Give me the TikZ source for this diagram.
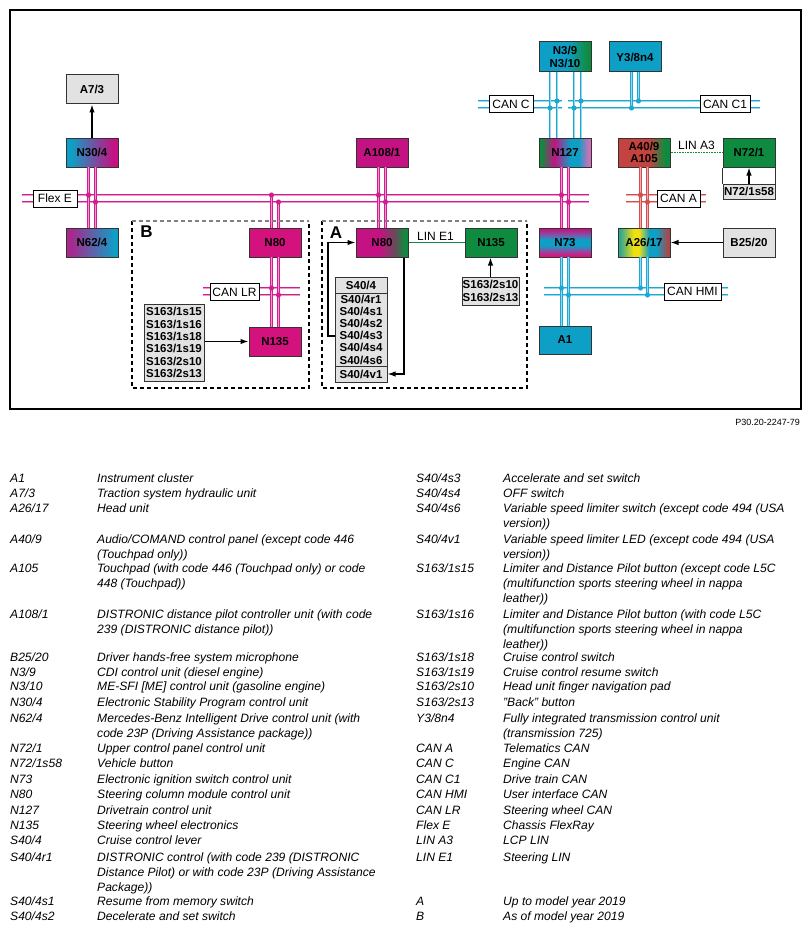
\documentclass[tikz,border=0pt]{standalone}
\usepackage{fontspec}
\setmainfont{Liberation Sans}
\usetikzlibrary{arrows.meta}
\definecolor{cmag}{HTML}{C41283}
\definecolor{cpink}{HTML}{D4127E}
\definecolor{cblue}{HTML}{0E9FC6}
\definecolor{cgreen}{HTML}{0F8B3F}
\definecolor{cred}{HTML}{C4423F}
\definecolor{cgray}{HTML}{E2E2E2}
\definecolor{bord}{HTML}{333333}
\definecolor{cpurp}{HTML}{A8288E}
\definecolor{clav}{HTML}{D070B8}
\definecolor{cdark}{HTML}{6A4A5A}
\definecolor{cteal}{HTML}{30A890}
\definecolor{cyel}{HTML}{F0E010}
\definecolor{cbrown}{HTML}{A84848}
\definecolor{cvio}{HTML}{7A5AA8}
\definecolor{cmagb}{HTML}{E0107E}
\definecolor{busM}{HTML}{D21C90}
\definecolor{busB}{HTML}{1BA8D4}
\definecolor{busR}{HTML}{D24F4F}
\pgfdeclarehorizontalshading{gNthirty}{100bp}{color(0bp)=(cblue); color(30bp)=(cblue); color(70bp)=(cmag); color(100bp)=(cmag)}
\pgfdeclarehorizontalshading{gNsixtytwo}{100bp}{color(0bp)=(cpurp); color(30bp)=(cpurp); color(72bp)=(cblue); color(100bp)=(cblue)}
\pgfdeclarehorizontalshading{gNthree}{100bp}{color(0bp)=(cblue); color(52bp)=(cblue); color(72bp)=(cgreen); color(100bp)=(cgreen)}
\pgfdeclarehorizontalshading{gNonetwoseven}{100bp}{color(0bp)=(cgreen); color(27bp)=(cgreen); color(40bp)=(cmag); color(55bp)=(cblue); color(63bp)=(cblue); color(73bp)=(clav); color(100bp)=(clav)}
\pgfdeclarehorizontalshading{gAforty}{100bp}{color(0bp)=(cred); color(55bp)=(cred); color(70bp)=(cgreen); color(100bp)=(cgreen)}
\pgfdeclarehorizontalshading{gAtwentysix}{100bp}{color(0bp)=(cteal); color(27bp)=(cteal); color(40bp)=(cyel); color(45bp)=(cyel); color(55bp)=(cblue); color(62bp)=(cblue); color(73bp)=(cbrown); color(100bp)=(cbrown)}
\pgfdeclarehorizontalshading{gNeightyA}{100bp}{color(0bp)=(cmag); color(48bp)=(cmag); color(62bp)=(cdark); color(72bp)=(cgreen); color(100bp)=(cgreen)}
\pgfdeclareverticalshading{gNseventythree}{100bp}{color(0bp)=(cmagb); color(27bp)=(cmagb); color(37bp)=(cvio); color(45bp)=(cblue); color(55bp)=(cblue); color(63bp)=(cvio); color(73bp)=(cmag); color(100bp)=(cmag)}
\begin{document}
\begin{tikzpicture}[x=1pt,y=-1pt,
  box/.style={draw=bord, line width=1pt, minimum width=52pt, minimum height=29pt, inner sep=0pt,
    font=\fontsize{11.5}{12.3}\selectfont\bfseries, align=center},
  gbox/.style={box, fill=cgray},
  lab/.style={draw=black, fill=white, line width=1pt, minimum height=17pt, inner sep=0pt,
    font=\fontsize{12}{12}\selectfont},
  plain/.style={inner sep=0pt, font=\fontsize{12}{12}\selectfont},
  bM/.style={draw=busM, line width=0.8pt, double=busM!45, double distance=0.6pt},
  bB/.style={draw=busB, line width=0.8pt, double=busB!45, double distance=0.6pt},
  bR/.style={draw=busR, line width=0.8pt, double=busR!45, double distance=0.6pt},
  arr/.style={line width=1.3pt, -{Latex[length=8pt,width=5.5pt]}},
  dbox/.style={line width=1.3pt, dash pattern=on 4pt off 3pt},
  leg/.style={anchor=base west, inner sep=0pt, font=\itshape\fontsize{12.1}{15}\selectfont},
  dotM/.style={fill=busM, draw=none},
  dotB/.style={fill=busB, draw=none},
  dotR/.style={fill=busR, draw=none}
]
\useasboundingbox (0,0) rectangle (811,931);
\draw[line width=1.2pt] (10,10) rectangle (801,409);

% ---- buses (horizontal)
\draw[bM] (22,195) -- (589,195) (22,202) -- (589,202);
\draw[bB] (478,101) -- (562,101) (478,108) -- (562,108);
\draw[bB] (568,101) -- (760,101) (568,108) -- (760,108);
\draw[bR] (626,195) -- (706,195) (626,202) -- (706,202);
\draw[bM] (203,288) -- (300,288) (203,295) -- (300,295);
\draw[bB] (544,288) -- (728,288) (544,295) -- (728,295);

% ---- boxes
\node[gbox] (A73) at (92,89.5) {A7/3};
\node[box, shading=gNthirty] (N304) at (92,152.5) {N30/4};
\node[box, shading=gNsixtytwo] (N624) at (92,242.5) {N62/4};
\node[box, fill=cpink] (N80B) at (275,242.5) {N80};
\node[box, fill=cpink] (N135B) at (275,341.5) {N135};
\node[gbox, minimum width=60pt, minimum height=77pt] (S163L) at (174,342.5)
  {S163/1s15\\S163/1s16\\S163/1s18\\S163/1s19\\S163/2s10\\S163/2s13};
\node[box, fill=cmag] (A1081) at (382,152.5) {A108/1};
\node[box, shading=gNeightyA] (N80A) at (382,242.5) {N80};
\node[box, fill=cgreen] (N135A) at (491,242.5) {N135};
\node[gbox, minimum width=57pt, minimum height=28pt] (S1632) at (490.5,291) {S163/2s10\\S163/2s13};
\node[gbox, minimum height=16pt] (S404h) at (361,285) {S40/4};
\node[gbox, minimum height=73pt, font=\fontsize{11.5}{12.2}\selectfont\bfseries] (S404m) at (361,329.5)
  {S40/4r1\\S40/4s1\\S40/4s2\\S40/4s3\\S40/4s4\\S40/4s6};
\node[gbox, minimum height=16pt] (S404v) at (361,374) {S40/4v1};
\node[box, shading=gNthree, minimum height=30pt] (N39) at (565,57) {N3/9\\N3/10};
\node[box, fill=cblue, minimum height=30pt] (Y38) at (635,57) {Y3/8n4};
\node[box, shading=gNonetwoseven] (N127) at (565,152.5) {N127};
\node[box, shading=gNseventythree] (N73) at (565,242.5) {N73};
\node[box, fill=cblue, minimum height=28pt] (A1) at (565,340) {A1};
\node[box, shading=gAforty] (A409) at (644,152.5) {A40/9\\A105};
\node[box, shading=gAtwentysix] (A2617) at (644,242.5) {A26/17};
\node[gbox] (B2520) at (749,242.5) {B25/20};
\node[box, fill=cgreen] (N721) at (749,152.5) {N72/1};
\node[gbox, minimum height=15pt] (N7258) at (749,191.5) {N72/1s58};
\draw[bord, line width=1pt] (N721.south west) -- (N7258.north west) (N721.south east) -- (N7258.north east);

% ---- vertical bus stubs
\draw[bM] (88.5,167) -- (88.5,228) (95.5,167) -- (95.5,228);
\draw[bM] (271.5,195) -- (271.5,228) (278.5,202) -- (278.5,228);
\draw[bM] (271.5,257) -- (271.5,327) (278.5,257) -- (278.5,327);
\draw[bM] (378.5,167) -- (378.5,228) (385.5,167) -- (385.5,228);
\draw[bB] (550,72) -- (550,138) (557,72) -- (557,138) (574,72) -- (574,138) (581,72) -- (581,138);
\draw[bB] (631.5,72) -- (631.5,108) (638.5,72) -- (638.5,101);
\draw[bM] (561.5,167) -- (561.5,228) (568.5,167) -- (568.5,228);
\draw[bB] (561.5,257) -- (561.5,326) (568.5,257) -- (568.5,326);
\draw[bR] (640.5,167) -- (640.5,228) (647.5,167) -- (647.5,228);
\draw[bB] (640.5,257) -- (640.5,288) (647.5,257) -- (647.5,295);

% ---- junction dots
\foreach \p in {(88.5,195),(95.5,202),(271.5,195),(278.5,202),(378.5,195),(385.5,202),(561.5,195),(568.5,202),(271.5,288),(278.5,295)}
  \fill[dotM] \p circle (2.6pt);
\foreach \p in {(557,101),(550,108),(581,101),(574,108),(638.5,101),(631.5,108),(561.5,288),(568.5,295),(640.5,288),(647.5,295)}
  \fill[dotB] \p circle (2.6pt);
\foreach \p in {(640.5,195),(647.5,202)}
  \fill[dotR] \p circle (2.6pt);

% ---- bus labels
\node[lab, minimum width=44pt] (lFlexE) at (55,198.5) {Flex E};
\node[lab, minimum width=44pt] (lCANC) at (511,104.5) {CAN C};
\node[lab, minimum width=50pt] (lCANCone) at (725,104.5) {CAN C1};
\node[lab, minimum width=43pt] (lCANA) at (678.5,198.5) {CAN A};
\node[lab, minimum width=49pt] (lCANLR) at (234.5,292) {CAN LR};
\node[lab, minimum width=57pt] (lCANHMI) at (692.5,291.5) {CAN HMI};

% ---- LIN connections
\draw[cgreen, line width=1.3pt] (N80A.east) -- (N135A.west);
\node[plain] (lLINE) at (435.5,236) {LIN E1};
\draw[cgreen, line width=1.3pt, dash pattern=on 1pt off 0.6pt] (A409.east) -- (N721.west);
\node[plain] (lLINA) at (696.5,145) {LIN A3};

% ---- arrows
\draw[arr] (N304.north) -- (A73.south);
\draw[arr] (N135B.west -| S163L.east) -- (N135B.west);
\draw[arr] (S1632.north) -- (S1632.north |- N135A.south);
\draw[arr] (B2520.west) -- (A2617.east);
\draw[arr] (N7258.north) -- (N721.south);
\coordinate (tA) at (328,336);
\draw[arr] (tA -| S404m.west) -- (tA) |- (N80A.west);
\coordinate (tB) at (404,374);
\draw[arr] (tB |- N80A.south) -- (tB) -- (tB -| S404v.east);

% ---- dashed frames
\draw[dbox] (132,221) -- (132,388) -- (309,388) -- (309,221);
\draw[dbox, gray] (132,221) -- (309,221);
\draw[dbox] (322,221) -- (322,388) -- (527,388) -- (527,221);
\draw[dbox, gray] (322,221) -- (527,221);
\node[inner sep=0pt, font=\bfseries\fontsize{17}{17}\selectfont] (lB) at (146.5,232) {B};
\node[inner sep=0pt, font=\bfseries\fontsize{17}{17}\selectfont] (lA) at (336,232.5) {A};

\node[anchor=east, inner sep=0pt, font=\fontsize{9}{9}\selectfont] (ref) at (800,422) {P30.20-2247-79};

% ---- legend
\foreach \y/\c/\d [count=\i] in {
 482/{A1}/{Instrument cluster},
 497/{A7/3}/{Traction system hydraulic unit},
 512/{A26/17}/{Head unit},
 543/{A40/9}/{Audio/COMAND control panel (except code 446},
 558/{}/{(Touchpad only))},
 572/{A105}/{Touchpad (with code 446 (Touchpad only) or code},
 587/{}/{448 (Touchpad))},
 618/{A108/1}/{DISTRONIC distance pilot controller unit (with code},
 633/{}/{239 (DISTRONIC distance pilot))},
 661/{B25/20}/{Driver hands-free system microphone},
 676/{N3/9}/{CDI control unit (diesel engine)},
 690/{N3/10}/{ME-SFI [ME] control unit (gasoline engine)},
 706/{N30/4}/{Electronic Stability Program control unit},
 722/{N62/4}/{Mercedes-Benz Intelligent Drive control unit (with},
 737/{}/{code 23P (Driving Assistance package))},
 752/{N72/1}/{Upper control panel control unit},
 767/{N72/1s58}/{Vehicle button},
 783/{N73}/{Electronic ignition switch control unit},
 798/{N80}/{Steering column module control unit},
 814/{N127}/{Drivetrain control unit},
 829/{N135}/{Steering wheel electronics},
 844/{S40/4}/{Cruise control lever},
 861/{S40/4r1}/{DISTRONIC control (with code 239 (DISTRONIC},
 876/{}/{Distance Pilot) or with code 23P (Driving Assistance},
 891/{}/{Package))},
 905/{S40/4s1}/{Resume from memory switch},
 920/{S40/4s2}/{Decelerate and set switch}}
{
 \node[leg] (lc\i) at (10,\y) {\c};
 \node[leg] (ld\i) at (97,\y) {\d};
}
\foreach \y/\c/\d [count=\i] in {
 482/{S40/4s3}/{Accelerate and set switch},
 497/{S40/4s4}/{OFF switch},
 512/{S40/4s6}/{Variable speed limiter switch (except code 494 (USA},
 527/{}/{version))},
 543/{S40/4v1}/{Variable speed limiter LED (except code 494 (USA},
 558/{}/{version))},
 572/{S163/1s15}/{Limiter and Distance Pilot button (except code L5C},
 587/{}/{(multifunction sports steering wheel in nappa},
 602/{}/{leather))},
 618/{S163/1s16}/{Limiter and Distance Pilot button (with code L5C},
 633/{}/{(multifunction sports steering wheel in nappa},
 648/{}/{leather))},
 661/{S163/1s18}/{Cruise control switch},
 676/{S163/1s19}/{Cruise control resume switch},
 690/{S163/2s10}/{Head unit finger navigation pad},
 706/{S163/2s13}/{"Back" button},
 722/{Y3/8n4}/{Fully integrated transmission control unit},
 737/{}/{(transmission 725)},
 752/{CAN A}/{Telematics CAN},
 767/{CAN C}/{Engine CAN},
 783/{CAN C1}/{Drive train CAN},
 798/{CAN HMI}/{User interface CAN},
 814/{CAN LR}/{Steering wheel CAN},
 829/{Flex E}/{Chassis FlexRay},
 844/{LIN A3}/{LCP LIN},
 861/{LIN E1}/{Steering LIN},
 905/{A}/{Up to model year 2019},
 920/{B}/{As of model year 2019}}
{
 \node[leg] (rc\i) at (416,\y) {\c};
 \node[leg] (rd\i) at (503,\y) {\d};
}
\end{tikzpicture}
\end{document}
